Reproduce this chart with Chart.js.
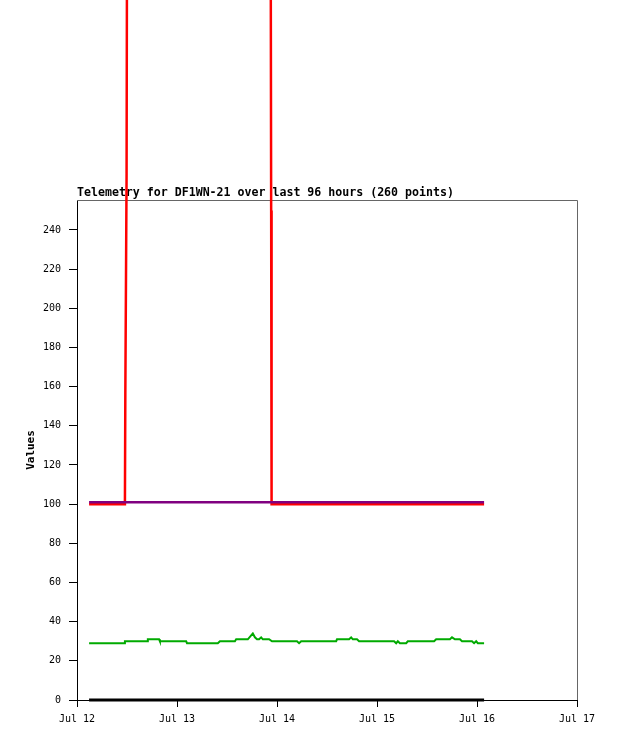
<!DOCTYPE html>
<html>
<head>
<meta charset="utf-8">
<script src="https://cdn.jsdelivr.net/npm/chart.js@4"></script>
<style>
  body { margin: 0; background: #fff; }
  canvas { display: block; }
</style>
</head>
<body>
<canvas id="telemetryChart" width="618" height="741"></canvas>
<script>
// hours since Jul 12 00:00 and the values
var redHours   = [2.9, 11.5, 11.6, 11.9, 12.1, 46.4, 46.6, 46.7, 97.7];
var redValues  = [100, 100, 157, 269, 500, 500, 250, 100, 100];

var purpleHours  = [2.9, 97.7];
var purpleValues = [101, 101];

var greenHours  = [2.9, 11.3, 11.5, 16.8, 17.0, 19.7, 19.9, 26.2, 26.4, 33.8, 34.3, 37.9, 38.2, 41.0, 41.8, 42.2, 42.7, 43.2,
                   43.7, 44.2, 44.6, 46.1, 46.8, 52.8, 53.3, 53.8, 62.2, 62.4, 65.3, 65.8, 66.2, 67.2, 67.7, 76.1,
                   76.6, 77.0, 77.5, 79.0, 79.4, 85.7, 86.2, 89.5, 90.0, 90.7, 91.9, 92.4, 94.8, 95.3, 95.8, 96.2, 97.7];
var greenValues = [29, 29, 30, 30, 31, 31, 30, 30, 29, 29, 30, 30, 31, 31, 33, 34, 32, 31,
                   31, 32, 31, 31, 30, 30, 29, 30, 30, 31, 31, 32, 31, 31, 30, 30,
                   29, 30, 29, 29, 30, 30, 31, 31, 32, 31, 31, 30, 30, 29, 30, 29, 29];

var blackHours  = [2.9, 97.7];
var blackValues = [0, 0];

var xTickHours  = [0, 24, 48, 72, 96, 120];
var xTickLabels = ["Jul 12", "Jul 13", "Jul 14", "Jul 15", "Jul 16", "Jul 17"];
var yTicks      = [0, 20, 40, 60, 80, 100, 120, 140, 160, 180, 200, 220, 240];

function points(hours, values) {
  return hours.map(function (h, i) { return { x: h, y: values[i] }; });
}

// title text and the grey top/right frame of the plot box
var frame = {
  id: "frame",
  beforeDatasetsDraw: function (chart) {
    var c = chart.ctx, a = chart.chartArea;
    c.save();
    c.strokeStyle = "#666";
    c.lineWidth = 1;
    c.beginPath();
    c.moveTo(a.left, a.top + 0.5);
    c.lineTo(a.right + 0.5, a.top + 0.5);
    c.lineTo(a.right + 0.5, a.bottom);
    c.stroke();
    c.fillStyle = "#000";
    c.font = "bold 11.6px 'DejaVu Sans Mono'";
    c.textBaseline = "alphabetic";
    c.textAlign = "left";
    c.fillText("Telemetry for DF1WN-21 over last 96 hours (260 points)", a.left, 196);
    c.restore();
  }
};

var ctx = document.getElementById("telemetryChart").getContext("2d");

var myChart = new Chart(ctx, {
  type: "line",
  data: {
    datasets: [
      { data: points(blackHours, blackValues), borderColor: "#000", borderWidth: 3, order: 0 },
      { data: points(greenHours, greenValues), borderColor: "#00aa00", borderWidth: 2, order: 1 },
      { data: points(purpleHours, purpleValues), borderColor: "#800080", borderWidth: 2.5, order: 2 },
      { data: points(redHours, redValues), borderColor: "#ff0000", borderWidth: 2.5, order: 3 }
    ]
  },
  options: {
    responsive: false,
    devicePixelRatio: 1,
    animation: false,
    elements: {
      point: { radius: 0 },
      line: { tension: 0, borderCapStyle: "butt" }
    },
    datasets: { line: { clip: false } },
    layout: { padding: { left: 0, top: 200, right: 41, bottom: 0 } },
    plugins: {
      legend: { display: false },
      tooltip: { enabled: false }
    },
    scales: {
      x: {
        type: "linear",
        min: 0,
        max: 120,
        afterFit: function (s) { s.height = 41; },
        afterBuildTicks: function (s) { s.ticks = xTickHours.map(function (v) { return { value: v }; }); },
        ticks: {
          color: "#000",
          padding: 6,
          maxRotation: 0,
          autoSkip: false,
          font: { family: "'DejaVu Sans Mono'", size: 10 },
          callback: function (v) { return xTickLabels[xTickHours.indexOf(v)]; }
        },
        grid: { drawOnChartArea: false, tickLength: 7, tickColor: "#000" },
        border: { color: "#000" }
      },
      y: {
        min: 0,
        max: 255.3,
        afterFit: function (s) { s.width = 77; },
        afterBuildTicks: function (s) { s.ticks = yTicks.map(function (v) { return { value: v }; }); },
        ticks: {
          color: "#000",
          padding: 8,
          font: { family: "'DejaVu Sans Mono'", size: 10 }
        },
        grid: { drawOnChartArea: false, tickLength: 8, tickColor: "#000" },
        border: { color: "#000" },
        title: {
          display: true,
          text: "Values",
          color: "#000",
          padding: { top: 25, bottom: 0 },
          font: { family: "'DejaVu Sans Mono'", size: 11, weight: "bold" }
        }
      }
    }
  },
  plugins: [frame]
});
</script>
</body>
</html>
